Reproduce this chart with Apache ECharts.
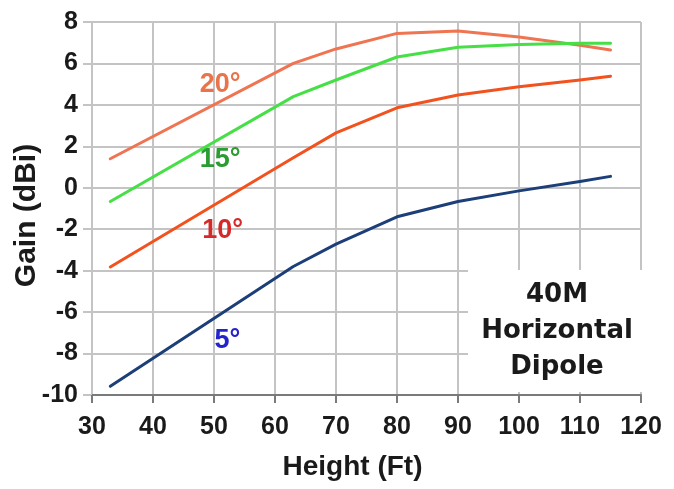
<!DOCTYPE html>
<html>
<head>
<meta charset="utf-8">
<script src="https://cdn.jsdelivr.net/npm/echarts@6/dist/echarts.min.js"></script>
<style>
html,body{margin:0;padding:0;background:#fff;}
#c{width:674px;height:489px;}
</style>
</head>
<body>
<div id="c"></div>
<script>
// Data
var heights = [33, 63, 70, 80, 90, 100, 110, 115];
var gain20 = [1.4, 6.0, 6.7, 7.45, 7.57, 7.28, 6.88, 6.65];
var gain15 = [-0.66, 4.4, 5.2, 6.31, 6.78, 6.92, 6.97, 6.98];
var gain10 = [-3.82, 1.45, 2.65, 3.86, 4.48, 4.88, 5.2, 5.38];
var gain5 = [-9.58, -3.8, -2.72, -1.4, -0.66, -0.15, 0.3, 0.55];
var seriesNames = ['20°', '15°', '10°', '5°'];
var labelCoords = [[51.0, 5.0], [51.0, 1.35], [51.4, -2.07], [52.2, -7.37]];
var noteText = '40M\nHorizontal\nDipole';

var lineColors = ['#ef7452', '#46df46', '#f2521e', '#1c3f7a'];
var textColors = ['#e8744c', '#2a9c32', '#d62a2a', '#2424cc'];
var allData = [gain20, gain15, gain10, gain5];

function pairs(xs, ys) { return xs.map(function (x, i) { return [x, ys[i]]; }); }

var series = allData.map(function (d, i) {
  return {
    name: seriesNames[i],
    type: 'line',
    data: pairs(heights, d),
    showSymbol: false,
    symbol: 'none',
    lineStyle: { color: lineColors[i], width: 3, join: 'round', cap: 'round' },
    z: 3,
    markPoint: {
      symbol: 'circle',
      symbolSize: 0,
      label: {
        show: true, position: 'inside', formatter: seriesNames[i],
        color: textColors[i], fontSize: 27, fontWeight: 'bold',
        fontFamily: 'Liberation Sans, Arial, sans-serif'
      },
      data: [{ coord: labelCoords[i] }]
    }
  };
});

var chart = echarts.init(document.getElementById('c'), null, { renderer: 'canvas' });
var tickFont = 'Liberation Sans, Arial, sans-serif';
var fontTicks = { fontSize: 25, fontWeight: 'bold', color: '#1a1a1a', fontFamily: tickFont };
chart.setOption({
  animation: false,
  backgroundColor: '#fff',
  grid: { left: 92, right: 33, top: 22, bottom: 94, containLabel: false, outerBoundsMode: 'none' },
  xAxis: {
    type: 'value', min: 30, max: 120, interval: 10,
    name: 'Height (Ft)', nameLocation: 'middle', nameGap: 58, nameMoveOverlap: false,
    nameTextStyle: { fontSize: 28, fontWeight: 'bold', color: '#1a1a1a', fontFamily: tickFont, padding: [0, 28, 0, 0] },
    axisLine: { show: true, onZero: false, lineStyle: { color: '#7a7a7a', width: 2 } },
    axisTick: { show: true, length: 8, lineStyle: { color: '#7a7a7a', width: 2 } },
    axisLabel: Object.assign({ margin: 20 }, fontTicks),
    splitLine: { show: true, lineStyle: { color: '#c4c4c4', width: 2 } }
  },
  yAxis: {
    type: 'value', min: -10, max: 8, interval: 2,
    name: 'Gain (dBi)', nameLocation: 'middle', nameGap: 50, nameRotate: 90, nameMoveOverlap: false,
    nameTextStyle: { fontSize: 30, fontWeight: 'bold', color: '#1a1a1a', fontFamily: tickFont, padding: [0, 14, 0, 0] },
    axisLine: { show: true, onZero: false, lineStyle: { color: '#c4c4c4', width: 2 } },
    axisTick: { show: true, length: 9, lineStyle: { color: '#c4c4c4', width: 2 } },
    axisLabel: Object.assign({ margin: 14 }, fontTicks),
    splitLine: { show: true, lineStyle: { color: '#c4c4c4', width: 2 } }
  },
  series: series,
  graphic: [
    { type: 'rect', x: 468, y: 270, z: 10, shape: { width: 180, height: 122 }, style: { fill: '#ffffff' } },
    { type: 'text', x: 557, y: 331, z: 11,
      style: { text: noteText, fontSize: 26, fontWeight: 'bold', fontFamily: 'DejaVu Sans, sans-serif', fill: '#1a1a1a', align: 'center', verticalAlign: 'middle', lineHeight: 36 } }
  ]
});
</script>
</body>
</html>
